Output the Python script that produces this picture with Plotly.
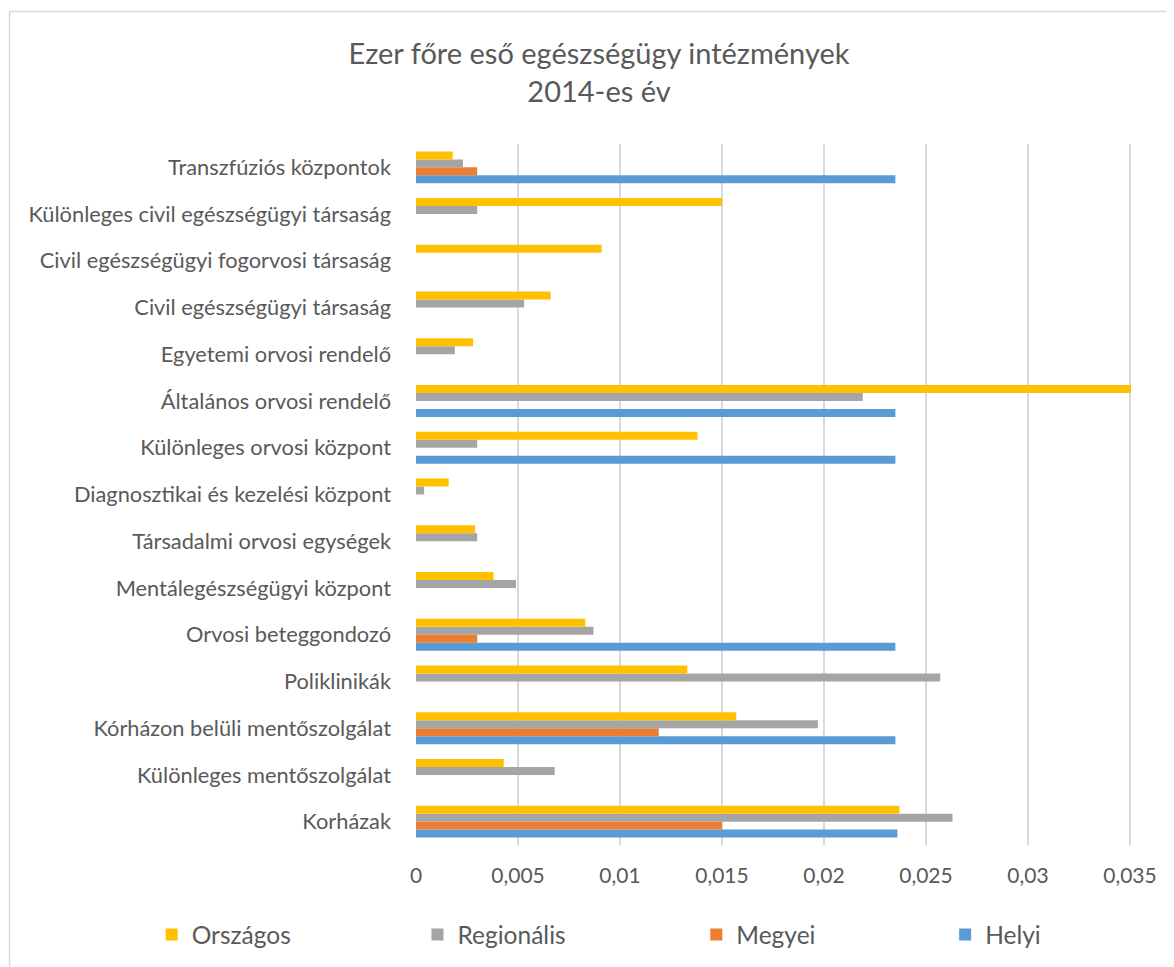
import plotly.graph_objects as go

categories = [
    "Korházak",
    "Különleges mentőszolgálat",
    "Kórházon belüli mentőszolgálat",
    "Poliklinikák",
    "Orvosi beteggondozó",
    "Mentálegészségügyi központ",
    "Társadalmi orvosi egységek",
    "Diagnosztikai és kezelési központ",
    "Különleges orvosi központ",
    "Általános orvosi rendelő",
    "Egyetemi orvosi rendelő",
    "Civil egészségügyi társaság",
    "Civil egészségügyi fogorvosi társaság",
    "Különleges civil egészségügyi társaság",
    "Transzfúziós központok",
]

orszagos = [0.0237, 0.0043, 0.0157, 0.0133, 0.0083, 0.0038, 0.0029, 0.0016,
            0.0138, 0.0351, 0.0028, 0.0066, 0.0091, 0.0150, 0.0018]
regionalis = [0.0263, 0.0068, 0.0197, 0.0257, 0.0087, 0.0049, 0.0030, 0.0004,
              0.0030, 0.0219, 0.0019, 0.0053, None, 0.0030, 0.0023]
megyei = [0.0150, None, 0.0119, None, 0.0030, None, None, None,
          None, None, None, None, None, None, 0.0030]
helyi = [0.0236, None, 0.0235, None, 0.0235, None, None, None,
         0.0235, 0.0235, None, None, None, None, 0.0235]

tick_vals = [0, 0.005, 0.01, 0.015, 0.02, 0.025, 0.03, 0.035]
tick_text = ["0", "0,005", "0,01", "0,015", "0,02", "0,025", "0,03", "0,035"]

# (name, values, colour, legend id, legend left edge in px)
series = [
    ("Helyi", helyi, "#5B9BD5", "legend4", 937),
    ("Megyei", megyei, "#ED7D31", "legend3", 688),
    ("Regionális", regionalis, "#A5A5A5", "legend2", 409),
    ("Országos", orszagos, "#FFC000", "legend", 143),
]

FONT = "Lato, 'Open Sans', sans-serif"
TXT = "#595959"

W, H = 1166, 959
L, R, T, B = 407.5, 43, 135.6, 121.6
pw, ph = W - L - R, H - T - B


def px_x(p):
    return (p - L) / pw


def px_y(p):
    return (H - B - p) / ph


fig = go.Figure()
legends = {}
for name, vals, col, lg, lx in series:
    fig.add_trace(go.Bar(
        y=categories, x=vals, name=name, orientation="h",
        marker=dict(color=col, line=dict(width=0)),
        legend=lg,
    ))
    legends[lg] = dict(
        orientation="h", x=px_x(lx), xanchor="left",
        y=px_y(927), yanchor="middle",
        font=dict(size=24.5, color=TXT, family=FONT),
        bgcolor="rgba(0,0,0,0)",
    )

fig.update_layout(
    width=W, height=H,
    margin=dict(l=L, r=R, t=T, b=B, autoexpand=False),
    paper_bgcolor="white", plot_bgcolor="white",
    barmode="group", bargap=0.316, bargroupgap=0,
    font=dict(family=FONT, color=TXT, size=21),
    title=dict(
        text="Ezer főre eső egészségügy intézmények<br>2014-es év",
        x=591 / W, xanchor="center", xref="container",
        y=1 - 56 / H, yanchor="middle", yref="container",
        font=dict(size=29, color=TXT, family=FONT),
    ),
    xaxis=dict(
        range=[0, 0.03505], tickvals=tick_vals, ticktext=tick_text,
        showgrid=True, gridcolor="#D9D9D9", gridwidth=1.5,
        zeroline=False, showline=False, ticks="",
        ticklabelstandoff=16, tickfont=dict(size=21, color=TXT),
    ),
    yaxis=dict(
        categoryorder="array", categoryarray=categories,
        showgrid=False, zeroline=False, showline=False, ticks="",
        ticklabelstandoff=24, tickfont=dict(size=21.8, color=TXT),
    ),
    showlegend=True,
    shapes=[dict(
        type="rect", xref="paper", yref="paper",
        x0=px_x(0.75), x1=px_x(1180), y0=px_y(975), y1=px_y(3),
        line=dict(color="#D9D9D9", width=1.5), fillcolor="rgba(0,0,0,0)",
        layer="below",
    )],
    **legends,
)

fig.write_html("out.html")
